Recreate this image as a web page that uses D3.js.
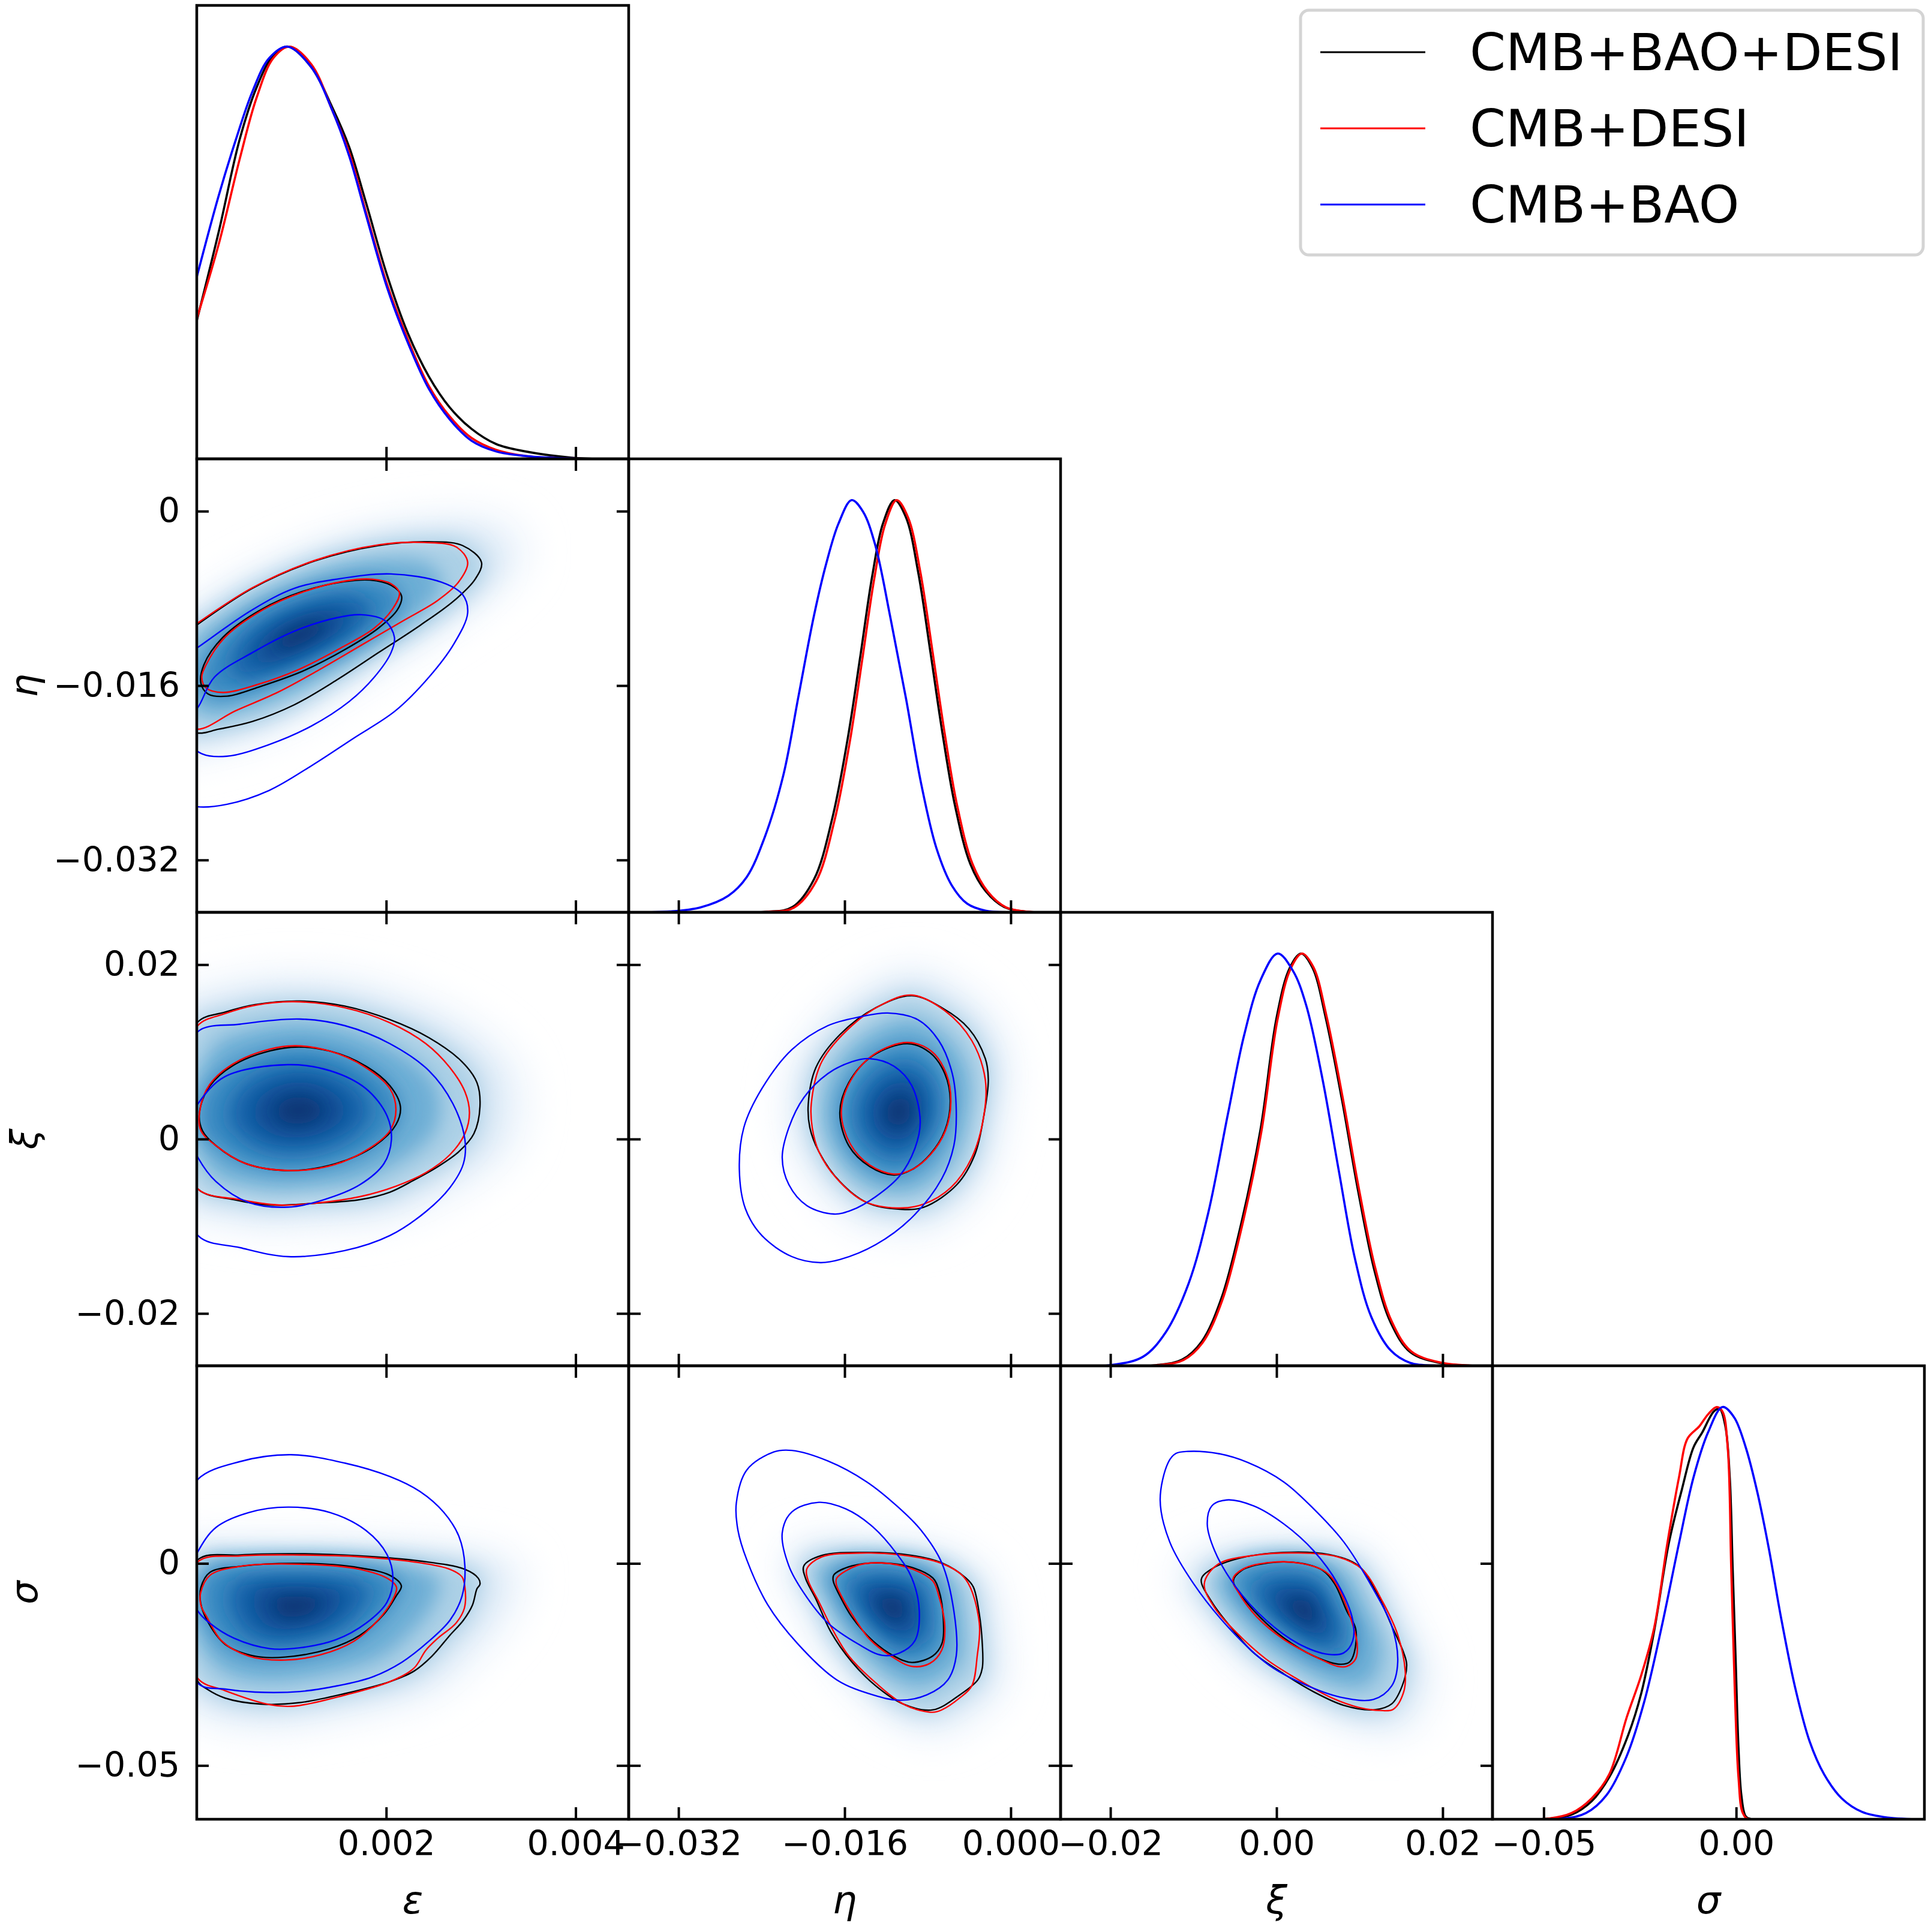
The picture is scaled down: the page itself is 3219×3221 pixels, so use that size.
<!DOCTYPE html>
<html><head><meta charset="utf-8">
<script src="https://cdn.jsdelivr.net/npm/d3@7"></script>
<style>body{margin:0;background:#fff} svg text{font-family:"DejaVu Sans",sans-serif}</style>
</head><body><svg id="c" width="3219" height="3221"></svg>
<script>
// ---------------- data ----------------
const paramLabels = ["ε","η","ξ","σ"];
const seriesNames = ["CMB+BAO+DESI","CMB+DESI","CMB+BAO"];
const ranges = [[0,0.00456],[-0.0368,0.0048],[-0.026,0.026],[-0.0633,0.0489]];
const tickVals = [[0.002,0.004],[-0.032,-0.016,0],[-0.02,0,0.02],[-0.05,0]];
const xTickLabels = [["0.002","0.004"],["−0.032","−0.016","0.000"],["−0.02","0.00","0.02"],["−0.05","0.00"]];
const yTickLabels = [null,["−0.032","−0.016","0"],["−0.02","0","0.02"],["−0.05","0"]];

// 1D marginals [value, normalised density]
const epsBlack = [[0,0.335],[0.000231,0.55],[0.000453,0.775],[0.00063,0.9],[0.000808,0.979],[0.000963,1],[0.00121,0.95],[0.00143,0.853],[0.00161,0.756],[0.001785,0.623],[0.00201,0.445],[0.00223,0.304],[0.00245,0.2],[0.00267,0.125],[0.0029,0.073],[0.00316,0.036],[0.00347,0.018],[0.00396,0.003],[0.00432,0],[0.00456,0]];
const epsRed = [[0,0.34],[0.000231,0.52],[0.000453,0.727],[0.00063,0.875],[0.000808,0.972],[0.00098,1],[0.00121,0.957],[0.00143,0.846],[0.00161,0.742],[0.001785,0.6],[0.00201,0.423],[0.00223,0.289],[0.00245,0.177],[0.00267,0.103],[0.0029,0.051],[0.00316,0.022],[0.00347,0.007],[0.00396,0.001],[0.00456,0]];
const epsBlue = [[0,0.441],[0.000231,0.638],[0.000408,0.771],[0.000586,0.89],[0.000764,0.972],[0.000955,1],[0.00121,0.95],[0.00143,0.846],[0.00161,0.734],[0.001785,0.593],[0.00201,0.415],[0.00223,0.281],[0.00245,0.17],[0.00267,0.096],[0.0029,0.044],[0.00316,0.018],[0.00347,0.007],[0.00396,0.001],[0.00456,0]];

const etaBlack = [[-0.0368,0],[-0.02367,0.001],[-0.02102,0.013],[-0.01895,0.08],[-0.01718,0.229],[-0.0157,0.422],[-0.01452,0.616],[-0.01334,0.816],[-0.01231,0.943],[-0.01119,1],[-0.01009,0.958],[-0.00891,0.824],[-0.00773,0.63],[-0.00655,0.43],[-0.00537,0.259],[-0.00389,0.117],[-0.00241,0.051],[-0.00064,0.013],[0.0017,0.001],[0.0048,0]];
const etaRed = [[-0.0368,0],[-0.0235,0.001],[-0.0209,0.011],[-0.01875,0.075],[-0.01698,0.222],[-0.0155,0.414],[-0.01432,0.61],[-0.01314,0.81],[-0.01211,0.94],[-0.01099,1],[-0.00989,0.958],[-0.00871,0.826],[-0.00753,0.632],[-0.00635,0.432],[-0.00517,0.26],[-0.00369,0.118],[-0.00221,0.05],[-0.00044,0.012],[0.0019,0.001],[0.0048,0]];
const etaBlue = [[-0.0368,0],[-0.03282,0.002],[-0.02987,0.012],[-0.02721,0.04],[-0.02544,0.085],[-0.02367,0.184],[-0.0219,0.333],[-0.02043,0.526],[-0.01895,0.72],[-0.01777,0.846],[-0.01659,0.943],[-0.01532,1],[-0.01423,0.972],[-0.01305,0.891],[-0.01157,0.712],[-0.01009,0.519],[-0.00862,0.311],[-0.00715,0.155],[-0.00567,0.065],[-0.0042,0.021],[-0.00243,0.004],[0.0002,0],[0.0048,0]];

const xiBlack = [[-0.026,0],[-0.0145,0.0015],[-0.01136,0.015],[-0.009,0.059],[-0.00665,0.163],[-0.0043,0.341],[-0.00194,0.572],[0.00002,0.846],[0.00159,0.965],[0.00296,1],[0.00434,0.965],[0.0059,0.846],[0.00787,0.646],[0.00983,0.423],[0.0118,0.23],[0.01376,0.104],[0.01611,0.033],[0.01964,0.007],[0.024,0],[0.026,0]];
const xiRed = [[-0.026,0],[-0.0143,0.0015],[-0.0112,0.014],[-0.0089,0.056],[-0.00655,0.158],[-0.0042,0.335],[-0.00184,0.566],[0.00012,0.84],[0.00169,0.963],[0.00306,1],[0.00444,0.967],[0.006,0.85],[0.00797,0.65],[0.00993,0.428],[0.0119,0.236],[0.01386,0.108],[0.01621,0.035],[0.01974,0.008],[0.0241,0],[0.026,0]];
const xiBlue = [[-0.026,0],[-0.02,0.0015],[-0.01607,0.022],[-0.01332,0.082],[-0.01058,0.2],[-0.00822,0.371],[-0.00587,0.609],[-0.0039,0.802],[-0.00194,0.935],[0.00014,1],[0.00198,0.958],[0.00355,0.876],[0.00551,0.698],[0.00748,0.475],[0.00944,0.26],[0.0114,0.119],[0.01376,0.037],[0.01611,0.007],[0.01964,0],[0.026,0]];

const sigBlack = [[-0.0633,0],[-0.04881,0.0015],[-0.04277,0.011],[-0.0375,0.044],[-0.03297,0.102],[-0.02806,0.204],[-0.02467,0.305],[-0.02128,0.458],[-0.01751,0.669],[-0.0141,0.8],[-0.01109,0.902],[-0.00883,0.938],[-0.00581,0.989],[-0.00431,0.996],[-0.0028,0.953],[-0.00166,0.829],[-0.00091,0.611],[-0.00015,0.393],[0.0006,0.175],[0.00136,0.058],[0.00249,0.007],[0.004,0],[0.0489,0]];
const sigRed = [[-0.0633,0],[-0.04881,0.0015],[-0.04277,0.015],[-0.0375,0.051],[-0.03297,0.109],[-0.02844,0.247],[-0.02467,0.349],[-0.02128,0.465],[-0.01788,0.669],[-0.01486,0.829],[-0.0126,0.924],[-0.00958,0.953],[-0.00732,0.982],[-0.00506,1],[-0.00355,0.989],[-0.0022,0.902],[-0.00129,0.611],[-0.00038,0.32],[0.0006,0.102],[0.00173,0.015],[0.00324,0],[0.0489,0]];
const sigBlue = [[-0.0633,0],[-0.04503,0.0015],[-0.039,0.015],[-0.03372,0.058],[-0.02844,0.153],[-0.02391,0.284],[-0.01939,0.465],[-0.01486,0.669],[-0.01109,0.829],[-0.00732,0.938],[-0.00355,1],[-0.00053,0.975],[0.00249,0.902],[0.00551,0.793],[0.00852,0.655],[0.01154,0.495],[0.01531,0.32],[0.01908,0.189],[0.02285,0.109],[0.02738,0.051],[0.03266,0.018],[0.03945,0.004],[0.0485,0]];

// 2D contours (68% and 95%) [x-param, y-param]
const epsEtaBlack68 = [[0.000075,-0.0141],[0.000275,-0.01158],[0.000675,-0.00905],[0.001119,-0.00736],[0.001563,-0.00646],[0.001829,-0.00632],[0.002051,-0.0068],[0.002162,-0.00778],[0.002118,-0.00905],[0.001918,-0.01073],[0.001563,-0.0127],[0.001119,-0.01467],[0.000675,-0.01607],[0.00032,-0.01697],[0.00012,-0.01677],[0.000044,-0.01579]];
const epsEtaBlack95 = [[0,-0.01045],[0.000586,-0.00708],[0.001252,-0.00455],[0.001918,-0.00315],[0.002451,-0.00281],[0.002806,-0.00315],[0.003006,-0.00469],[0.002939,-0.00624],[0.002717,-0.00821],[0.002362,-0.01045],[0.001918,-0.01298],[0.001474,-0.01551],[0.00103,-0.01776],[0.000586,-0.0193],[0.000231,-0.02],[0,-0.02034],[-0.000213,-0.01916],[-0.000302,-0.01523],[-0.000213,-0.01186]];
const epsEtaRed68 = [[0.000098,-0.0141],[0.000297,-0.01158],[0.000697,-0.00905],[0.001119,-0.00742],[0.001563,-0.00641],[0.001851,-0.00624],[0.002051,-0.00666],[0.00214,-0.0075],[0.002073,-0.0089],[0.001874,-0.01073],[0.001518,-0.01256],[0.001074,-0.01453],[0.00063,-0.01593],[0.000275,-0.01663],[0.000098,-0.01621],[0.000053,-0.01523]];
const epsEtaRed95 = [[0,-0.01031],[0.000586,-0.00703],[0.001252,-0.0045],[0.001918,-0.00309],[0.002406,-0.00287],[0.00274,-0.00329],[0.00286,-0.00469],[0.002762,-0.00652],[0.00254,-0.00821],[0.002184,-0.01003],[0.00174,-0.01228],[0.001297,-0.01453],[0.000852,-0.01663],[0.000408,-0.01832],[0,-0.02],[-0.000213,-0.01874],[-0.000302,-0.01513],[-0.000213,-0.01158]];
const epsEtaBlue68 = [[0.000009,-0.01804],[0.000186,-0.01523],[0.000586,-0.01298],[0.00103,-0.01101],[0.001474,-0.00978],[0.00174,-0.0095],[0.001985,-0.01003],[0.002087,-0.01158],[0.002051,-0.01298],[0.001874,-0.01523],[0.001607,-0.01748],[0.001208,-0.01972],[0.000764,-0.02141],[0.00032,-0.02248],[0.000053,-0.02225],[-0.000124,-0.02085],[-0.000124,-0.01916]];
const epsEtaBlue95 = [[0,-0.01256],[0.000586,-0.00905],[0.00103,-0.00708],[0.001474,-0.00624],[0.002051,-0.00576],[0.002584,-0.00652],[0.002806,-0.00764],[0.00286,-0.00933],[0.002717,-0.01214],[0.002451,-0.01523],[0.002096,-0.01832],[0.001652,-0.02085],[0.001208,-0.02337],[0.000764,-0.02562],[0.00032,-0.02689],[0,-0.02711],[-0.000302,-0.02618],[-0.000391,-0.01916],[-0.000258,-0.0141]];

const epsXiBlack68 = [[0.000028,0.003],[0.000139,0.0061],[0.000456,0.00887],[0.000994,0.01052],[0.001406,0.01008],[0.001786,0.00836],[0.002039,0.00612],[0.00215,0.00372],[0.002103,0.00165],[0.001881,-0.00076],[0.001469,-0.00282],[0.000994,-0.00361],[0.000519,-0.00282],[0.000203,-0.00076],[0.00006,0.00096]];
const epsXiBlack95 = [[0.00001,0.01341],[0.000298,0.01455],[0.000614,0.01541],[0.00109,0.01582],[0.001564,0.01524],[0.002039,0.01369],[0.002451,0.01162],[0.0028,0.00887],[0.002958,0.00647],[0.00299,0.00372],[0.002926,0.00062],[0.002768,-0.00144],[0.002546,-0.00316],[0.002293,-0.00471],[0.002039,-0.00609],[0.001723,-0.00695],[0.001248,-0.00736],[0.000773,-0.00757],[0.000393,-0.00695],[0.000013,-0.00574],[-0.000177,-0.0001],[-0.000146,0.0075]];
const epsXiRed68 = [[0.000028,0.003],[0.000139,0.00629],[0.000456,0.00905],[0.000963,0.01066],[0.001406,0.01008],[0.001786,0.00819],[0.002039,0.00578],[0.002103,0.00337],[0.002039,0.00096],[0.001818,-0.0011],[0.001438,-0.00299],[0.000994,-0.00361],[0.000519,-0.00282],[0.000203,-0.00076],[0.000044,0.00096]];
const epsXiRed95 = [[0.00001,0.013],[0.000298,0.01438],[0.000614,0.01534],[0.001026,0.01575],[0.001564,0.01506],[0.002039,0.01334],[0.002419,0.01094],[0.002673,0.00819],[0.002831,0.00543],[0.002879,0.00303],[0.002831,0.00062],[0.002673,-0.00179],[0.002419,-0.00385],[0.002103,-0.0054],[0.001723,-0.0066],[0.001248,-0.00736],[0.000868,-0.00757],[0.000456,-0.00695],[0.000013,-0.00574],[-0.000177,-0.0001],[-0.000146,0.0075]];
const epsXiBlue68 = [[0.000013,0.00406],[0.000298,0.00716],[0.000963,0.00853],[0.001406,0.00784],[0.001786,0.00578],[0.002008,0.00268],[0.002055,-0.00007],[0.001976,-0.00282],[0.001723,-0.00523],[0.001343,-0.00695],[0.000963,-0.00781],[0.000551,-0.00729],[0.000203,-0.00488],[0.000013,-0.00213],[-0.000114,0.00131]];
const epsXiBlue95 = [[0.00001,0.01231],[0.000456,0.01317],[0.001089,0.01376],[0.001564,0.013],[0.002039,0.01094],[0.002451,0.00784],[0.002704,0.00406],[0.002831,-0.00007],[0.002815,-0.00282],[0.002673,-0.00557],[0.002419,-0.00832],[0.002039,-0.01107],[0.001564,-0.01279],[0.000963,-0.01348],[0.000456,-0.01245],[0.000013,-0.01107],[-0.000177,-0.00351],[-0.000146,0.00681]];

const etaXiBlack68 = [[-0.01646,0.00303],[-0.0156,0.00647],[-0.01328,0.00956],[-0.00996,0.01094],[-0.00779,0.00991],[-0.00635,0.0075],[-0.00583,0.0044],[-0.00635,0.00096],[-0.00779,-0.00179],[-0.00953,-0.00351],[-0.01126,-0.00413],[-0.01357,-0.00316],[-0.0156,-0.00076]];
const etaXiBlack95 = [[-0.0195,0.00406],[-0.01877,0.00819],[-0.01646,0.01197],[-0.013,0.01506],[-0.00953,0.01644],[-0.00664,0.01506],[-0.00404,0.01266],[-0.00245,0.00922],[-0.00216,0.00681],[-0.00259,0.00268],[-0.00346,-0.00179],[-0.00519,-0.00523],[-0.00837,-0.00781],[-0.01068,-0.00805],[-0.01386,-0.00729],[-0.01646,-0.00488],[-0.01848,-0.00144],[-0.01935,0.00131]];
const etaXiRed68 = [[-0.01632,0.00303],[-0.01545,0.00664],[-0.01314,0.00973],[-0.00996,0.01107],[-0.00765,0.01008],[-0.00621,0.0075],[-0.00577,0.00423],[-0.00629,0.00096],[-0.00779,-0.00186],[-0.00953,-0.00351],[-0.01126,-0.00402],[-0.01357,-0.00299],[-0.01545,-0.00058]];
const etaXiRed95 = [[-0.01921,0.00406],[-0.0182,0.00887],[-0.01531,0.013],[-0.01242,0.01541],[-0.00953,0.01651],[-0.00635,0.01472],[-0.00375,0.01128],[-0.00245,0.00681],[-0.00259,0.00268],[-0.00375,-0.00213],[-0.00577,-0.00557],[-0.00837,-0.00746],[-0.01097,-0.00791],[-0.01415,-0.00712],[-0.01675,-0.00454],[-0.01848,-0.00144],[-0.01912,0.00131]];
const etaXiBlue68 = [[-0.02201,-0.00213],[-0.02137,0.00131],[-0.01993,0.00475],[-0.01762,0.0075],[-0.01531,0.00887],[-0.01357,0.00922],[-0.01126,0.00836],[-0.00953,0.00612],[-0.00872,0.002],[-0.00924,-0.0011],[-0.01068,-0.0042],[-0.013,-0.0066],[-0.01531,-0.00815],[-0.01704,-0.0086],[-0.01964,-0.00763],[-0.02137,-0.00523]];
const etaXiBlue95 = [[-0.02614,-0.00351],[-0.02571,0.00131],[-0.02397,0.00578],[-0.02108,0.01025],[-0.01762,0.013],[-0.01444,0.01403],[-0.01184,0.01445],[-0.00895,0.01369],[-0.00693,0.01128],[-0.00563,0.0075],[-0.00525,0.00337],[-0.00548,-0.00076],[-0.00664,-0.00454],[-0.00953,-0.00901],[-0.013,-0.01211],[-0.01646,-0.01382],[-0.01834,-0.01417],[-0.02108,-0.01348],[-0.02397,-0.01107],[-0.02556,-0.00798]];

const epsSigBlack68 = [[0.000044,-0.00592],[0.000139,-0.00221],[0.000456,-0.00073],[0.001089,0.00001],[0.001723,-0.0011],[0.002039,-0.00295],[0.00216,-0.00555],[0.002103,-0.00814],[0.001976,-0.01258],[0.001723,-0.01777],[0.001406,-0.0211],[0.000931,-0.02318],[0.000614,-0.02295],[0.000298,-0.01999],[0.000108,-0.01407],[0.00004,-0.00962]];
const epsSigBlack95 = [[0.00001,0.0009],[0.000456,0.00208],[0.001089,0.00238],[0.001723,0.00186],[0.002356,0.0006],[0.002831,-0.00147],[0.002973,-0.00369],[0.00299,-0.00518],[0.002958,-0.00629],[0.00291,-0.01036],[0.002815,-0.01407],[0.002673,-0.01777],[0.002483,-0.02295],[0.002293,-0.02666],[0.002039,-0.02925],[0.001564,-0.03221],[0.001089,-0.03444],[0.000678,-0.03481],[0.000298,-0.03332],[0.000108,-0.0311],[0.000013,-0.02925],[-0.000177,-0.01407]];
const epsSigRed68 = [[0.00004,-0.0074],[0.000139,-0.00295],[0.000456,-0.00073],[0.001089,-0.0002],[0.001723,-0.00147],[0.002039,-0.00407],[0.002109,-0.00592],[0.002071,-0.00888],[0.001913,-0.01407],[0.001659,-0.01925],[0.001311,-0.02258],[0.000931,-0.02392],[0.000551,-0.02295],[0.000266,-0.01925],[0.000108,-0.01333],[0.000044,-0.01036]];
const epsSigRed95 = [[0.00001,0.00038],[0.000456,0.00186],[0.001089,0.00208],[0.001723,0.00164],[0.002356,0.00016],[0.002673,-0.00147],[0.0028,-0.00332],[0.002831,-0.00592],[0.002825,-0.0111],[0.002736,-0.0148],[0.002546,-0.0185],[0.002419,-0.02147],[0.002293,-0.02592],[0.002039,-0.02925],[0.001564,-0.03258],[0.001026,-0.03532],[0.000773,-0.03495],[0.000298,-0.03147],[0.000013,-0.02851],[-0.000177,-0.01407]];
const epsSigBlue68 = [[0.000013,0.00297],[0.000203,0.0089],[0.000551,0.0126],[0.000963,0.01393],[0.001406,0.0126],[0.001786,0.00816],[0.002008,0.00223],[0.002071,-0.00369],[0.002008,-0.00962],[0.001786,-0.01481],[0.00147,-0.01888],[0.001089,-0.02088],[0.000773,-0.0211],[0.000393,-0.01851],[0.000139,-0.01481],[0.000013,-0.01184],[-0.000114,-0.00444]];
const epsSigBlue95 = [[0.00001,0.02075],[0.000456,0.02519],[0.000994,0.0269],[0.001564,0.02482],[0.002039,0.02149],[0.002356,0.01779],[0.002609,0.0126],[0.002768,0.00668],[0.002831,-0.00073],[0.0028,-0.00814],[0.002673,-0.01407],[0.002451,-0.01925],[0.002166,-0.02444],[0.001849,-0.02814],[0.00147,-0.03036],[0.001089,-0.0317],[0.000614,-0.03184],[0.000298,-0.0311],[0.000013,-0.02962],[-0.000177,-0.00814],[-0.000146,0.01038]];

const etaSigBlack68 = [[-0.01704,-0.00285],[-0.01531,-0.00062],[-0.01242,0.00012],[-0.00953,-0.00099],[-0.00751,-0.00359],[-0.00693,-0.00656],[-0.00649,-0.01398],[-0.00664,-0.0199],[-0.00751,-0.02288],[-0.00953,-0.02451],[-0.01126,-0.0229],[-0.01328,-0.01917],[-0.01531,-0.01323],[-0.01646,-0.00804],[-0.0171,-0.00433]];
const etaSigBlack95 = [[-0.01993,-0.00062],[-0.0182,0.00198],[-0.01386,0.00272],[-0.00953,0.00198],[-0.00664,0.00012],[-0.00433,-0.00359],[-0.00361,-0.00581],[-0.00303,-0.01249],[-0.00274,-0.0199],[-0.00274,-0.02585],[-0.00317,-0.02882],[-0.00491,-0.03253],[-0.00751,-0.03624],[-0.0104,-0.03475],[-0.013,-0.0303],[-0.01531,-0.02436],[-0.01733,-0.01694],[-0.01877,-0.00878],[-0.01978,-0.00359]];
const etaSigRed68 = [[-0.01675,-0.00359],[-0.01473,-0.00047],[-0.01242,0.00012],[-0.00953,-0.00136],[-0.00751,-0.00433],[-0.00693,-0.00804],[-0.00635,-0.01546],[-0.00664,-0.0214],[-0.00779,-0.02473],[-0.00953,-0.02547],[-0.01155,-0.0229],[-0.01357,-0.0188],[-0.01531,-0.01249],[-0.01632,-0.00804],[-0.01681,-0.00507]];
const etaSigRed95 = [[-0.01964,-0.00136],[-0.0182,0.00161],[-0.01386,0.00257],[-0.01097,0.0022],[-0.00664,-0.00003],[-0.00433,-0.00396],[-0.00303,-0.01472],[-0.00323,-0.0229],[-0.00375,-0.0303],[-0.00491,-0.03327],[-0.00664,-0.03624],[-0.00751,-0.03683],[-0.01011,-0.03512],[-0.013,-0.02956],[-0.0156,-0.0229],[-0.01704,-0.01694],[-0.01848,-0.00952],[-0.0195,-0.00433]];
const etaSigBlue68 = [[-0.02201,0.00754],[-0.02108,0.01274],[-0.01848,0.01511],[-0.01588,0.01348],[-0.01328,0.00903],[-0.01097,0.00235],[-0.00953,-0.00359],[-0.00881,-0.01175],[-0.00924,-0.01917],[-0.01068,-0.02214],[-0.01242,-0.02273],[-0.01473,-0.0199],[-0.01762,-0.01472],[-0.01993,-0.0073],[-0.02137,-0.00062]];
const etaSigBlue95 = [[-0.02643,0.01496],[-0.02542,0.02312],[-0.02282,0.02758],[-0.02108,0.02795],[-0.01762,0.02535],[-0.01386,0.02016],[-0.01097,0.01422],[-0.00866,0.00828],[-0.00664,0.00012],[-0.00548,-0.01175],[-0.00525,-0.0229],[-0.00606,-0.02882],[-0.00808,-0.03253],[-0.01068,-0.03386],[-0.01328,-0.03253],[-0.01675,-0.02882],[-0.02051,-0.0199],[-0.0234,-0.01026],[-0.02542,0.00086],[-0.02628,0.00828]];

const xiSigBlack68 = [[-0.0052,-0.00433],[-0.00419,-0.00173],[-0.00094,0.00012],[0.00267,0.00012],[0.00556,-0.00173],[0.007,-0.00507],[0.00845,-0.01175],[0.00953,-0.0162],[0.00935,-0.02214],[0.00881,-0.02436],[0.00773,-0.02496],[0.00448,-0.0229],[0.00087,-0.01843],[-0.00202,-0.01323],[-0.00419,-0.00804]];
const xiSigBlack95 = [[-0.00906,-0.00396],[-0.0078,-0.00136],[-0.00455,0.00124],[0.00087,0.00272],[0.00628,0.0022],[0.00989,-0.00062],[0.01206,-0.0073],[0.01387,-0.01546],[0.01531,-0.02214],[0.01567,-0.0251],[0.01513,-0.0303],[0.01387,-0.03475],[0.0117,-0.03624],[0.00809,-0.03512],[0.00448,-0.03178],[0.00087,-0.02733],[-0.00275,-0.02214],[-0.00563,-0.01546],[-0.0078,-0.00952]];
const xiSigRed68 = [[-0.00527,-0.00396],[-0.00401,-0.00136],[-0.00058,0.00027],[0.00303,-0.00003],[0.00592,-0.0021],[0.00737,-0.00581],[0.00899,-0.01398],[0.00971,-0.0199],[0.00953,-0.02362],[0.00845,-0.02547],[0.00737,-0.02547],[0.00448,-0.0229],[0.00087,-0.0188],[-0.00238,-0.01323],[-0.00455,-0.0073]];
const xiSigRed95 = [[-0.0087,-0.00507],[-0.00708,-0.00025],[-0.00275,0.00198],[0.00267,0.00257],[0.00737,0.00161],[0.01026,-0.00136],[0.01278,-0.00952],[0.01459,-0.01769],[0.01549,-0.02659],[0.01531,-0.03178],[0.01405,-0.03609],[0.01242,-0.03638],[0.00989,-0.03564],[0.00664,-0.03327],[0.00267,-0.02882],[-0.0013,-0.02362],[-0.00491,-0.01694],[-0.00744,-0.011]];
const xiSigBlue68 = [[-0.00834,0.00977],[-0.0078,0.01422],[-0.006,0.0157],[-0.00275,0.01422],[0.00087,0.00977],[0.00448,0.00309],[0.00737,-0.00507],[0.00917,-0.01398],[0.00917,-0.01917],[0.00809,-0.02214],[0.00628,-0.02251],[0.00267,-0.0199],[-0.0013,-0.01398],[-0.00491,-0.00581],[-0.00744,0.00309]];
const xiSigBlue95 = [[-0.01304,0.02498],[-0.01213,0.0272],[-0.01069,0.02772],[-0.00708,0.0272],[-0.00347,0.02498],[0.00087,0.02016],[0.00448,0.01348],[0.00809,0.00532],[0.0117,-0.00656],[0.01387,-0.01546],[0.01459,-0.02436],[0.01387,-0.0303],[0.0117,-0.03364],[0.00809,-0.03327],[0.00376,-0.0303],[-0.00094,-0.02511],[-0.00563,-0.0162],[-0.00997,-0.00507],[-0.01286,0.00532],[-0.01401,0.0157]];

// ---------------- assembly ----------------
const seriesColors = ["#000000","#ff0000","#0000ff"];
const marginals = [
  [epsBlack, epsRed, epsBlue],
  [etaBlack, etaRed, etaBlue],
  [xiBlack, xiRed, xiBlue],
  [sigBlack, sigRed, sigBlue]
];
const pairs = {
  "1-0": [[epsEtaBlack68, epsEtaBlack95],[epsEtaRed68, epsEtaRed95],[epsEtaBlue68, epsEtaBlue95]],
  "2-0": [[epsXiBlack68, epsXiBlack95],[epsXiRed68, epsXiRed95],[epsXiBlue68, epsXiBlue95]],
  "2-1": [[etaXiBlack68, etaXiBlack95],[etaXiRed68, etaXiRed95],[etaXiBlue68, etaXiBlue95]],
  "3-0": [[epsSigBlack68, epsSigBlack95],[epsSigRed68, epsSigRed95],[epsSigBlue68, epsSigBlue95]],
  "3-1": [[etaSigBlack68, etaSigBlack95],[etaSigRed68, etaSigRed95],[etaSigBlue68, etaSigBlue95]],
  "3-2": [[xiSigBlack68, xiSigBlack95],[xiSigRed68, xiSigRed95],[xiSigBlue68, xiSigBlue95]]
};

// ---------------- layout ----------------
const W = 720, H = 756;
const colX = [328, 1048, 1768, 2488];
const rowY = [9, 765, 1521, 2277];
const svg = d3.select("#c");
svg.append("rect").attr("width",3219).attr("height",3221).attr("fill","#fff");
const defs = svg.append("defs");
[12,16,22,32].forEach(s=>{
  defs.append("filter").attr("id","b"+s).attr("x","-60%").attr("y","-60%").attr("width","220%").attr("height","220%")
    .append("feGaussianBlur").attr("stdDeviation", s);
});

const xScale = j => d3.scaleLinear().domain(ranges[j]).range([colX[j], colX[j]+W]);
const yScale = i => d3.scaleLinear().domain(ranges[i]).range([rowY[i]+H, rowY[i]]);
const closed = d3.line().curve(d3.curveCatmullRomClosed.alpha(0.5));
const tmp = svg.append("g").attr("visibility","hidden");

function clipFor(i,j){
  const id = `clip${i}${j}`;
  defs.append("clipPath").attr("id",id).append("rect")
    .attr("x",colX[j]).attr("y",rowY[i]).attr("width",W).attr("height",H);
  return `url(#${id})`;
}

function polarProfile(pts, cx, cy, n){
  const node = tmp.append("path").attr("d", closed(pts)).node();
  const L = node.getTotalLength();
  const r = new Array(n).fill(0);
  for(let k=0;k<=1600;k++){
    const p = node.getPointAtLength(L*k/1600);
    const a = Math.atan2(p.y-cy, p.x-cx);
    const b = ((Math.round((a+Math.PI)/(2*Math.PI)*n))%n+n)%n;
    const rr = Math.hypot(p.x-cx, p.y-cy);
    if(rr>r[b]) r[b]=rr;
  }
  for(let b=0;b<n;b++){ if(r[b]===0){ let l=1; while(r[(b-l+n)%n]===0 && l<n) l++; let q=1; while(r[(b+q)%n]===0 && q<n) q++; r[b]=(r[(b-l+n)%n]+r[(b+q)%n])/2; } }
  node.remove();
  return r;
}

function drawShading(g, inner, outer, x, y){
  const pi = inner.map(d=>[x(d[0]), y(d[1])]);
  const po = outer.map(d=>[x(d[0]), y(d[1])]);
  const cx = d3.mean(pi, d=>d[0]), cy = d3.mean(pi, d=>d[1]);
  const n = 144;
  const rin = polarProfile(pi, cx, cy, n), rout = polarProfile(po, cx, cy, n);
  const levels = [
    {f:1.9, t:0.07, b:32},
    {f:1.35, t:0.18, b:22},
    {f:1.0, t:0.33, b:16},
    {f:0.5, t:0.50, b:16},
    {f:0.0, t:0.66, b:16},
    {f:-0.3, t:0.80, b:16},
    {f:-0.55, t:0.90, b:16},
    {f:-0.78, t:0.97, b:12}
  ];
  levels.forEach(L=>{
    const pts = d3.range(n).map(b=>{
      const a = b/n*2*Math.PI - Math.PI;
      let r;
      if(L.f>1) r = rout[b]*(1+(L.f-1)*0.28);
      else if(L.f>=0) r = rin[b] + L.f*(rout[b]-rin[b]);
      else r = rin[b]*(1+L.f);
      return [cx + r*Math.cos(a), cy + r*Math.sin(a)];
    });
    g.append("path").attr("d", closed(pts)).attr("fill", d3.interpolateBlues(L.t))
      .attr("filter", `url(#b${L.b})`);
  });
}

function styleAxis(g){
  g.attr("font-size",57).attr("font-family","DejaVu Sans");
  g.select(".domain").remove();
  g.selectAll(".tick line").attr("stroke","#000").attr("stroke-width",4);
  g.selectAll(".tick text").attr("fill","#000");
}

function drawAxes(i,j,x,y,diag){
  const fmtX = i===3 ? (d=>xTickLabels[j][tickVals[j].indexOf(d)]) : (()=>"");
  svg.append("g").attr("transform",`translate(0,${rowY[i]+H})`)
    .call(d3.axisBottom(x).tickValues(tickVals[j]).tickSizeInner(-20).tickSizeOuter(0).tickPadding(20).tickFormat(fmtX))
    .call(styleAxis);
  if(diag) return;
  svg.append("g").attr("transform",`translate(0,${rowY[i]})`)
    .call(d3.axisTop(x).tickValues(tickVals[j]).tickSizeInner(-20).tickSizeOuter(0).tickFormat(()=>""))
    .call(styleAxis);
  const fmtY = j===0 ? (d=>yTickLabels[i][tickVals[i].indexOf(d)]) : (()=>"");
  svg.append("g").attr("transform",`translate(${colX[j]},0)`)
    .call(d3.axisLeft(y).tickValues(tickVals[i]).tickSizeInner(-20).tickSizeOuter(0).tickPadding(28).tickFormat(fmtY))
    .call(styleAxis);
  svg.append("g").attr("transform",`translate(${colX[j]+W},0)`)
    .call(d3.axisRight(y).tickValues(tickVals[i]).tickSizeInner(-20).tickSizeOuter(0).tickFormat(()=>""))
    .call(styleAxis);
}

// diagonal panels
for(let k=0;k<4;k++){
  const x = xScale(k);
  const y = d3.scaleLinear().domain([0,1.1]).range([rowY[k]+H, rowY[k]]);
  const g = svg.append("g").attr("clip-path", clipFor(k,k));
  const line = d3.line().curve(d3.curveCatmullRom.alpha(0.5)).x(d=>x(d[0])).y(d=>y(Math.max(0,d[1])));
  marginals[k].forEach((s,si)=>{
    g.append("path").attr("d", line(s)).attr("fill","none")
      .attr("stroke", seriesColors[si]).attr("stroke-width",3.6).attr("stroke-linejoin","round");
  });
  drawAxes(k,k,x,y,true);
}

// off-diagonal panels
Object.keys(pairs).forEach(key=>{
  const [i,j] = key.split("-").map(Number);
  const x = xScale(j), y = yScale(i);
  const g = svg.append("g").attr("clip-path", clipFor(i,j));
  const sets = pairs[key];
  drawShading(g.append("g"), sets[0][0], sets[0][1], x, y);
  const cl = d3.line().curve(d3.curveCatmullRomClosed.alpha(0.5)).x(d=>x(d[0])).y(d=>y(d[1]));
  sets.forEach((lv,si)=>{
    lv.forEach(c=>{
      g.append("path").attr("d", cl(c)).attr("fill","none")
        .attr("stroke", seriesColors[si]).attr("stroke-width",2.4).attr("stroke-linejoin","round");
    });
  });
  drawAxes(i,j,x,y,false);
});

// frames
for(let i=0;i<4;i++) for(let j=0;j<=i;j++){
  svg.append("rect").attr("x",colX[j]).attr("y",rowY[i]).attr("width",W).attr("height",H)
    .attr("fill","none").attr("stroke","#000").attr("stroke-width",4.5);
}

// axis labels
for(let j=0;j<4;j++){
  svg.append("text").attr("x", colX[j]+W/2).attr("y", 3190).attr("text-anchor","middle")
    .attr("font-size",64).attr("font-style","italic").attr("fill","#000").text(paramLabels[j]);
}
for(let i=1;i<4;i++){
  svg.append("text").attr("transform",`translate(62,${rowY[i]+H/2}) rotate(-90)`).attr("text-anchor","middle")
    .attr("font-size",62).attr("font-style","italic").attr("fill","#000").text(paramLabels[i]);
}

// legend
const lg = svg.append("g");
lg.append("rect").attr("x",2168).attr("y",17).attr("width",1038).attr("height",408).attr("rx",14)
  .attr("fill","#fff").attr("stroke","#d4d4d4").attr("stroke-width",5);
seriesNames.forEach((name,k)=>{
  const yy = 87 + k*127;
  lg.append("line").attr("x1",2201).attr("x2",2376).attr("y1",yy).attr("y2",yy)
    .attr("stroke",seriesColors[k]).attr("stroke-width",2.8);
  lg.append("text").attr("x",2450).attr("y",yy+30).attr("font-size",86).attr("fill","#000").text(name);
});
tmp.remove();
</script>
</body></html>
